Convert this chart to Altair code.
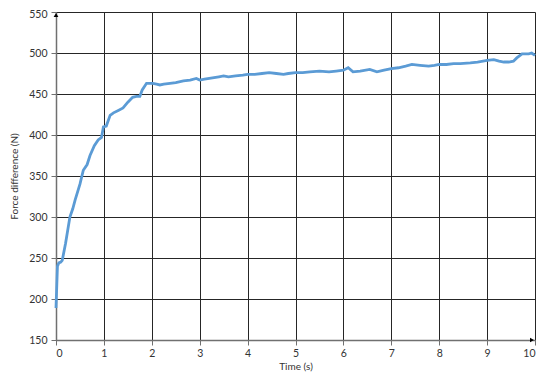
import altair as alt
import pandas as pd

time_s = [
    0, 0.03, 0.06, 0.1, 0.13, 0.2, 0.29, 0.35, 0.4, 0.5,
    0.57, 0.65, 0.71, 0.8, 0.88, 0.95, 0.99, 1.05, 1.13, 1.2,
    1.3, 1.4, 1.5, 1.6, 1.68, 1.75, 1.8, 1.89, 1.95, 2.02,
    2.1, 2.17, 2.25, 2.38, 2.5, 2.66, 2.8, 2.93, 3.0, 3.1,
    3.2, 3.3, 3.4, 3.5, 3.6, 3.75, 3.9, 4.0, 4.15, 4.3,
    4.45, 4.6, 4.75, 4.85, 5.0, 5.15, 5.3, 5.5, 5.7, 5.85,
    6.0, 6.1, 6.2, 6.35, 6.55, 6.7, 6.85, 7.0, 7.15, 7.3,
    7.43, 7.6, 7.78, 7.9, 8.0, 8.15, 8.3, 8.44, 8.65, 8.8,
    9.0, 9.14, 9.25, 9.35, 9.45, 9.55, 9.62, 9.73, 9.8, 9.87,
    9.93, 10.0,
]
force_n = [
    189, 240, 244, 245, 247, 268, 300, 310, 321, 340,
    357, 364, 375, 387, 394, 397, 410, 411, 424, 427,
    430, 433, 440, 446, 447, 447, 455, 463, 463, 463,
    462, 461, 462, 463, 464, 466, 467, 469, 467, 468,
    469, 470, 471, 472, 471, 472, 473, 474, 474, 475,
    476, 475, 474, 475, 476, 476, 477, 478, 477, 478,
    479, 482, 477, 478, 480, 477, 479, 481, 482, 484,
    486, 485, 484, 485, 486, 486, 487, 487, 488, 489,
    491, 492, 490, 489, 489, 490, 494, 499, 499, 499,
    500, 497,
]
x_ticks = list(range(0, 11))
y_ticks = list(range(150, 551, 50))

df = pd.DataFrame({"t": time_s, "f": force_n})

x_scale = alt.Scale(domain=[0, 10], nice=False)
y_scale = alt.Scale(domain=[150, 550], nice=False)

font = "Lato"

line = alt.Chart(df).mark_line(color="#5B9BD5", strokeWidth=2.8).encode(
    x=alt.X("t:Q", scale=x_scale, title="Time (s)",
            axis=alt.Axis(values=x_ticks, format="d", labelPadding=3,
                          titlePadding=3)),
    y=alt.Y("f:Q", scale=y_scale, title="Force difference (N)",
            axis=alt.Axis(values=y_ticks, format="d", labelPadding=4,
                          titlePadding=9,
                          labelOffset={"condition": {"test": "datum.value == 550",
                                                     "value": 2},
                                       "value": 0})),
)

arrow_up = alt.Chart(pd.DataFrame({"t": [0], "f": [550]})).mark_point(
    shape="triangle-up", filled=True, color="#000000", size=22, opacity=1,
    yOffset=3,
).encode(x=alt.X("t:Q", scale=x_scale), y=alt.Y("f:Q", scale=y_scale))

arrow_right = alt.Chart(pd.DataFrame({"t": [10], "f": [150]})).mark_point(
    shape="triangle-right", filled=True, color="#000000", size=22, opacity=1,
    xOffset=-3,
).encode(x=alt.X("t:Q", scale=x_scale), y=alt.Y("f:Q", scale=y_scale))

chart = alt.layer(line, arrow_up, arrow_right).properties(
    width=479, height=328,
    autosize=alt.AutoSizeParams(type="none"),
    padding={"left": 48, "top": 4, "right": 5, "bottom": 32},
    background="white",
).configure_view(stroke=None).configure_axis(
    grid=True, gridColor="#262626", gridWidth=1, gridOpacity=1,
    domainColor="#707070", domainWidth=1.5,
    tickColor="#707070", tickSize=5, tickWidth=1,
    labelFont=font, labelFontSize=10.5, labelColor="#333333",
    titleFont=font, titleFontSize=10, titleFontWeight="normal",
    titleColor="#333333",
)

chart.save("out.html", embed_options={"renderer": "svg", "actions": False})
